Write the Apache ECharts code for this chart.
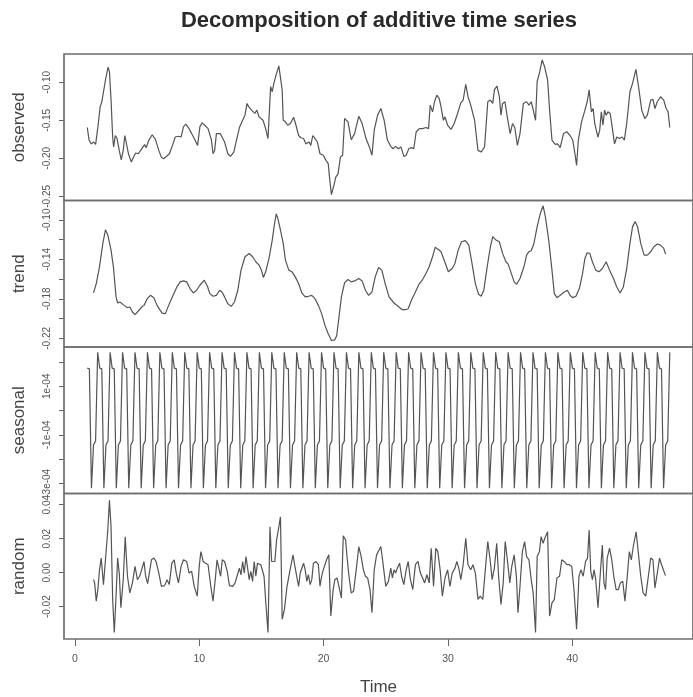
<!DOCTYPE html>
<html>
<head>
<meta charset="utf-8">
<script src="https://cdn.jsdelivr.net/npm/echarts@6/dist/echarts.min.js"></script>
<style>html,body{margin:0;padding:0;background:#fff;}#c{width:693px;height:697px;}</style>
</head>
<body>
<div id="c"></div>
<script>
// ---- data (time, value) ----
const observed = [[1.0,-0.1595],[1.14,-0.176],[1.32,-0.181],[1.51,-0.1786],[1.67,-0.1816],[1.85,-0.159],[2.04,-0.132],[2.17,-0.1256],[2.30,-0.125],[2.46,-0.097],[2.67,-0.080],[2.78,-0.086],[2.91,-0.1234],[3.04,-0.172],[3.12,-0.185],[3.25,-0.170],[3.39,-0.174],[3.57,-0.1896],[3.73,-0.202],[3.89,-0.1896],[4.02,-0.170],[4.15,-0.172],[4.31,-0.194],[4.54,-0.205],[4.71,-0.1985],[4.89,-0.193],[5.10,-0.194],[5.29,-0.1896],[5.48,-0.185],[5.61,-0.182],[5.74,-0.186],[5.95,-0.176],[6.22,-0.169],[6.48,-0.1755],[6.75,-0.1896],[6.95,-0.1985],[7.14,-0.2005],[7.40,-0.197],[7.60,-0.194],[7.85,-0.183],[8.07,-0.172],[8.33,-0.171],[8.54,-0.172],[8.73,-0.1587],[8.92,-0.155],[9.13,-0.1595],[9.39,-0.1675],[9.66,-0.176],[9.87,-0.183],[10.05,-0.1587],[10.24,-0.1534],[10.45,-0.1565],[10.71,-0.161],[10.98,-0.176],[11.11,-0.194],[11.24,-0.1896],[11.38,-0.1675],[11.50,-0.1666],[11.69,-0.1675],[11.83,-0.1666],[12.04,-0.1786],[12.30,-0.194],[12.51,-0.1975],[12.78,-0.1918],[12.96,-0.1786],[13.23,-0.1595],[13.49,-0.150],[13.68,-0.1433],[13.84,-0.1278],[13.97,-0.132],[14.10,-0.1345],[14.21,-0.1367],[14.34,-0.1345],[14.47,-0.141],[14.63,-0.1367],[14.81,-0.1455],[14.95,-0.1433],[15.13,-0.150],[15.34,-0.161],[15.53,-0.174],[15.61,-0.176],[15.74,-0.1057],[15.87,-0.1124],[16.00,-0.1014],[16.22,-0.088],[16.40,-0.0785],[16.53,-0.079],[16.67,-0.110],[16.75,-0.150],[16.93,-0.152],[17.12,-0.1565],[17.33,-0.1543],[17.59,-0.146],[17.78,-0.1565],[17.99,-0.170],[18.17,-0.173],[18.39,-0.174],[18.57,-0.181],[18.70,-0.183],[18.84,-0.1786],[18.97,-0.183],[19.13,-0.170],[19.31,-0.174],[19.50,-0.1786],[19.71,-0.194],[19.97,-0.196],[20.19,-0.2027],[20.37,-0.207],[20.50,-0.229],[20.63,-0.2478],[20.82,-0.236],[20.98,-0.2248],[21.16,-0.2204],[21.35,-0.1984],[21.53,-0.196],[21.69,-0.1477],[21.96,-0.152],[22.22,-0.1755],[22.49,-0.1675],[22.83,-0.1446],[23.10,-0.1543],[23.41,-0.174],[23.68,-0.185],[23.89,-0.196],[24.07,-0.163],[24.34,-0.1433],[24.60,-0.1345],[24.87,-0.150],[25.13,-0.176],[25.40,-0.1843],[25.58,-0.1874],[25.79,-0.1843],[26.00,-0.1874],[26.22,-0.185],[26.45,-0.1975],[26.64,-0.196],[26.85,-0.1874],[27.06,-0.186],[27.25,-0.1874],[27.44,-0.1654],[27.70,-0.161],[27.96,-0.161],[28.23,-0.1595],[28.44,-0.161],[28.57,-0.130],[28.76,-0.1389],[28.92,-0.1256],[29.10,-0.117],[29.29,-0.1213],[29.44,-0.132],[29.63,-0.150],[29.76,-0.1455],[29.97,-0.1565],[30.24,-0.162],[30.50,-0.1543],[30.77,-0.141],[31.03,-0.127],[31.22,-0.1234],[31.43,-0.1027],[31.61,-0.119],[31.83,-0.130],[32.14,-0.150],[32.41,-0.1896],[32.67,-0.1918],[32.94,-0.185],[33.20,-0.1256],[33.41,-0.1234],[33.60,-0.1278],[33.73,-0.110],[33.94,-0.1049],[34.13,-0.119],[34.26,-0.1433],[34.39,-0.1278],[34.58,-0.1256],[34.79,-0.1477],[35.00,-0.1675],[35.19,-0.1543],[35.37,-0.1595],[35.58,-0.183],[35.79,-0.1675],[36.06,-0.1278],[36.32,-0.1256],[36.51,-0.130],[36.69,-0.1256],[36.85,-0.136],[37.04,-0.150],[37.17,-0.099],[37.38,-0.086],[37.57,-0.0705],[37.75,-0.0785],[38.01,-0.097],[38.17,-0.1367],[38.36,-0.176],[38.62,-0.1816],[38.81,-0.181],[39.02,-0.186],[39.29,-0.1675],[39.55,-0.165],[39.81,-0.170],[40.03,-0.176],[40.21,-0.194],[40.34,-0.2094],[40.48,-0.176],[40.74,-0.152],[41.01,-0.1367],[41.19,-0.1256],[41.35,-0.110],[41.53,-0.1389],[41.67,-0.1345],[41.80,-0.1543],[41.93,-0.152],[42.06,-0.172],[42.20,-0.163],[42.33,-0.1389],[42.46,-0.1565],[42.59,-0.1367],[42.72,-0.1433],[42.86,-0.1389],[43.04,-0.141],[43.20,-0.1587],[43.39,-0.181],[43.57,-0.172],[43.78,-0.174],[44.00,-0.172],[44.18,-0.176],[44.37,-0.1543],[44.63,-0.1124],[44.84,-0.1014],[45.11,-0.0829],[45.32,-0.1058],[45.58,-0.1367],[45.82,-0.1477],[46.03,-0.1433],[46.30,-0.1234],[46.48,-0.1225],[46.64,-0.1345],[46.83,-0.1256],[47.09,-0.119],[47.35,-0.1234],[47.54,-0.1345],[47.70,-0.1389],[47.83,-0.1595]];

const trend = [[1.5,-0.174],[1.72,-0.1645],[1.98,-0.1475],[2.25,-0.1238],[2.46,-0.110],[2.65,-0.1153],[2.91,-0.1306],[3.10,-0.1475],[3.31,-0.178],[3.44,-0.1842],[3.62,-0.1832],[3.78,-0.1815],[3.97,-0.1866],[4.23,-0.189],[4.42,-0.1883],[4.63,-0.1933],[4.84,-0.196],[5.10,-0.1923],[5.37,-0.1883],[5.56,-0.1866],[5.82,-0.1798],[6.08,-0.1764],[6.35,-0.1788],[6.61,-0.1866],[7.01,-0.1944],[7.28,-0.195],[7.54,-0.1866],[7.86,-0.1774],[8.20,-0.1679],[8.47,-0.1628],[8.73,-0.1618],[8.99,-0.1628],[9.26,-0.1696],[9.52,-0.174],[9.79,-0.1713],[10.05,-0.1662],[10.40,-0.1611],[10.66,-0.1672],[10.85,-0.1747],[11.11,-0.1774],[11.38,-0.1764],[11.64,-0.1713],[11.83,-0.173],[12.04,-0.178],[12.30,-0.1849],[12.57,-0.1876],[12.83,-0.1832],[13.10,-0.1713],[13.36,-0.1509],[13.68,-0.1373],[14.02,-0.134],[14.29,-0.1373],[14.55,-0.1424],[14.81,-0.1458],[15.00,-0.1509],[15.16,-0.1584],[15.34,-0.1526],[15.61,-0.139],[15.87,-0.1204],[16.06,-0.1034],[16.19,-0.0939],[16.32,-0.0983],[16.53,-0.1102],[16.75,-0.1238],[16.93,-0.1407],[17.20,-0.1509],[17.46,-0.1526],[17.72,-0.1577],[17.99,-0.1645],[18.25,-0.174],[18.52,-0.178],[18.78,-0.1774],[19.05,-0.1764],[19.31,-0.1798],[19.58,-0.1866],[19.84,-0.195],[20.11,-0.2069],[20.37,-0.2154],[20.63,-0.2222],[20.90,-0.2215],[21.05,-0.2175],[21.24,-0.198],[21.43,-0.178],[21.69,-0.1635],[21.96,-0.1604],[22.22,-0.1628],[22.49,-0.1618],[22.83,-0.1594],[23.10,-0.1618],[23.36,-0.1713],[23.62,-0.1764],[23.89,-0.173],[24.15,-0.1577],[24.42,-0.1482],[24.68,-0.1509],[24.95,-0.1645],[25.26,-0.178],[25.66,-0.1842],[26.06,-0.1883],[26.32,-0.191],[26.59,-0.191],[26.80,-0.19],[27.06,-0.1815],[27.38,-0.173],[27.70,-0.1645],[27.96,-0.1604],[28.23,-0.1543],[28.49,-0.1475],[28.76,-0.1373],[28.97,-0.1278],[29.23,-0.1299],[29.44,-0.1322],[29.71,-0.1414],[30.03,-0.1526],[30.34,-0.1492],[30.56,-0.1441],[30.82,-0.1306],[31.09,-0.1221],[31.40,-0.121],[31.67,-0.1255],[31.93,-0.1441],[32.20,-0.1645],[32.46,-0.1754],[32.67,-0.1774],[32.88,-0.1713],[33.15,-0.1475],[33.41,-0.1272],[33.60,-0.117],[33.86,-0.1204],[34.13,-0.1221],[34.39,-0.1339],[34.66,-0.1424],[34.84,-0.1448],[35.05,-0.1526],[35.32,-0.1628],[35.53,-0.1652],[35.79,-0.1594],[36.11,-0.1475],[36.32,-0.1356],[36.51,-0.1322],[36.69,-0.1312],[36.90,-0.1244],[37.17,-0.1068],[37.43,-0.0932],[37.65,-0.0857],[37.83,-0.0966],[38.10,-0.1204],[38.36,-0.1509],[38.55,-0.1747],[38.76,-0.1788],[39.02,-0.1764],[39.34,-0.173],[39.60,-0.1713],[39.81,-0.1764],[40.03,-0.1788],[40.29,-0.1774],[40.56,-0.1696],[40.82,-0.1543],[41.01,-0.139],[41.19,-0.1333],[41.40,-0.1339],[41.61,-0.1424],[41.88,-0.1509],[42.14,-0.1526],[42.41,-0.1492],[42.72,-0.1424],[42.99,-0.1509],[43.31,-0.1594],[43.57,-0.1679],[43.84,-0.174],[44.10,-0.1679],[44.37,-0.1492],[44.63,-0.1238],[44.84,-0.1068],[45.05,-0.1017],[45.24,-0.1068],[45.50,-0.1238],[45.77,-0.1356],[46.03,-0.1356],[46.30,-0.1322],[46.56,-0.1272],[46.83,-0.1244],[47.09,-0.1255],[47.35,-0.1289],[47.50,-0.1346]];

// seasonal figure (one period of 6 observations), repeated over the series
const seasonalFigure = [2.4e-4, 1.75e-4, 1.72e-4, -3.2e-4, -1.42e-4, -1.25e-4];
const seasonalStart = 1;      // time of first observation
const seasonalFreq = 6;       // observations per time unit
const seasonalPhase = 1;      // position in the figure of the first observation
const seasonalCount = 282;    // number of observations

const random = [[1.5,-0.0041],[1.59,-0.006],[1.72,-0.0167],[1.85,-0.0099],[1.98,0.0017],[2.12,0.0086],[2.30,-0.007],[2.46,0.0076],[2.65,0.0251],[2.78,0.0426],[2.91,0.027],[3.04,-0.0157],[3.17,-0.0352],[3.31,-0.0138],[3.44,0.0086],[3.57,-0.0002],[3.70,-0.0206],[3.89,-0.0041],[4.05,0.0212],[4.23,-0.0021],[4.42,-0.0119],[4.63,-0.006],[4.84,0.0037],[5.03,-0.0041],[5.21,-0.0021],[5.37,0.0017],[5.56,0.0066],[5.69,-0.0021],[5.85,-0.0064],[6.01,0.0008],[6.16,0.0076],[6.35,0.0086],[6.53,0.0066],[6.75,-0.0002],[6.96,-0.008],[7.22,-0.0076],[7.41,-0.0041],[7.59,-0.007],[7.80,0.0056],[7.99,0.0076],[8.15,-0.0002],[8.33,-0.006],[8.54,0.0037],[8.73,0.0076],[8.99,0.0066],[9.18,-0.0002],[9.39,0.0008],[9.60,-0.008],[9.84,-0.0138],[10.00,0.0037],[10.13,0.0124],[10.32,0.0066],[10.50,0.0056],[10.71,0.0047],[10.93,-0.008],[11.11,-0.0167],[11.30,-0.0031],[11.43,0.0076],[11.56,0.0066],[11.72,-0.0021],[11.85,0.0076],[12.04,0.0066],[12.25,0.0008],[12.43,-0.0076],[12.70,-0.008],[12.88,-0.006],[13.04,-0.0021],[13.23,0.0027],[13.36,-0.0012],[13.49,0.0066],[13.62,-0.0002],[13.76,0.0095],[13.89,0.0086],[14.02,-0.0041],[14.15,0.0008],[14.29,-0.0051],[14.42,0.0066],[14.55,-0.0021],[14.68,0.0056],[14.81,0.0047],[14.95,0.0047],[15.08,0.0037],[15.21,-0.0021],[15.37,-0.0196],[15.53,-0.0352],[15.69,0.027],[15.82,0.0066],[15.95,0.0076],[16.08,0.0066],[16.22,0.0192],[16.40,0.027],[16.53,0.0328],[16.67,-0.0274],[16.85,-0.0216],[17.06,-0.008],[17.28,0.0008],[17.41,0.0017],[17.54,0.0105],[17.67,0.0047],[17.86,-0.0031],[17.99,-0.008],[18.12,-0.0002],[18.25,0.0008],[18.39,0.0056],[18.52,0.0017],[18.65,-0.0051],[18.78,-0.0012],[18.92,-0.007],[19.05,-0.0041],[19.18,0.0056],[19.39,0.0066],[19.58,0.0047],[19.71,-0.008],[19.84,-0.0021],[19.97,0.0017],[20.24,0.0076],[20.42,0.0105],[20.58,-0.0255],[20.77,-0.0099],[20.90,-0.0041],[21.08,-0.0031],[21.24,-0.0021],[21.43,-0.0148],[21.58,0.0217],[21.77,0.0192],[21.88,0.0095],[22.04,-0.0021],[22.22,-0.0119],[22.41,-0.0109],[22.62,0.0017],[22.83,0.0154],[23.02,0.0095],[23.20,0.0017],[23.36,-0.0021],[23.54,-0.0031],[23.73,-0.0099],[23.89,-0.0235],[24.07,0.0017],[24.26,0.0105],[24.42,0.0115],[24.60,0.0154],[24.74,0.0076],[24.87,0.0066],[25.00,-0.008],[25.21,-0.0051],[25.40,0.0027],[25.53,-0.0031],[25.66,0.0017],[25.79,-0.0002],[25.93,0.0027],[26.11,0.0056],[26.27,-0.0021],[26.45,-0.007],[26.64,0.0017],[26.80,0.0066],[26.98,-0.0041],[27.17,-0.0099],[27.38,0.0047],[27.59,0.0066],[27.78,-0.0002],[27.96,-0.0031],[28.12,-0.006],[28.31,-0.0012],[28.49,-0.006],[28.65,0.0144],[28.84,-0.008],[29.02,0.0144],[29.18,0.0124],[29.37,0.0017],[29.55,-0.0138],[29.76,-0.0031],[29.97,0.0017],[30.16,-0.008],[30.34,-0.0002],[30.56,0.0027],[30.71,0.0066],[30.87,0.0027],[31.03,-0.0041],[31.22,0.0047],[31.43,0.0202],[31.61,0.0047],[31.83,0.0017],[32.01,0.0047],[32.20,-0.0002],[32.41,-0.0157],[32.59,-0.0138],[32.80,-0.0157],[32.99,0.0008],[33.20,0.0183],[33.39,0.0076],[33.55,-0.0041],[33.73,0.0027],[33.92,0.0173],[34.08,-0.0031],[34.26,-0.0187],[34.44,-0.006],[34.60,0.0183],[34.79,0.0066],[34.97,-0.006],[35.13,0.0037],[35.32,0.0105],[35.50,-0.0021],[35.63,-0.0235],[35.79,-0.008],[35.98,0.0124],[36.16,0.0183],[36.32,0.0095],[36.51,0.0076],[36.69,-0.0041],[36.85,-0.0119],[37.04,-0.0352],[37.17,0.0095],[37.35,0.0124],[37.49,0.0212],[37.65,0.0173],[37.83,0.0212],[38.01,0.0241],[38.17,-0.0255],[38.36,-0.0177],[38.55,-0.0157],[38.76,-0.0031],[38.97,-0.0021],[39.15,0.0076],[39.34,0.0066],[39.55,0.0047],[39.76,0.0047],[39.95,0.0037],[40.13,-0.0099],[40.34,-0.0332],[40.53,-0.0021],[40.69,0.0017],[40.87,-0.0021],[41.06,0.0066],[41.22,0.0086],[41.35,0.0251],[41.48,0.0008],[41.61,-0.0041],[41.75,0.0017],[41.88,-0.0041],[42.06,-0.0206],[42.25,-0.0002],[42.41,0.0163],[42.54,-0.006],[42.67,-0.0099],[42.80,0.0086],[42.99,0.0144],[43.17,0.0076],[43.33,-0.0021],[43.52,-0.0099],[43.70,-0.0099],[43.86,-0.006],[44.05,-0.0051],[44.23,-0.0167],[44.39,-0.0041],[44.58,0.0124],[44.74,0.0076],[44.92,0.0163],[45.13,0.0241],[45.32,0.0105],[45.50,-0.0021],[45.69,-0.0119],[45.90,-0.0138],[46.11,-0.0021],[46.30,0.0086],[46.48,0.0076],[46.64,-0.0089],[46.83,-0.0002],[47.01,0.0086],[47.17,0.0047],[47.30,0.0056],[47.49,-0.0017]];

// ---- axis ticks / labels ----
const xTicks = [0, 10, 20, 30, 40];
const observedTicks = [-0.25, -0.20, -0.15, -0.10];
const trendTicks = [-0.22, -0.20, -0.18, -0.16, -0.14, -0.12, -0.10];
const trendLabels = [-0.22, -0.18, -0.14, -0.10];
const seasonalTicks = [-3e-4, -2e-4, -1e-4, 0, 1e-4, 2e-4];
const seasonalLabels = [-3e-4, -1e-4, 1e-4];
const randomTicks = [-0.02, 0.00, 0.02, 0.04];
const panelNames = ['observed', 'trend', 'seasonal', 'random'];
const titleText = 'Decomposition of additive time series';
const xName = 'Time';

// ---- build ----
const seasonal = [];
for (let i = 0; i < seasonalCount; i++) {
  seasonal.push([seasonalStart + i / seasonalFreq, seasonalFigure[(i + seasonalPhase) % seasonalFigure.length]]);
}

const FONT = 'Liberation Sans, Arial, Helvetica, sans-serif';
const LINE = '#545454';
const BOX = '#6e6e6e';
const X_MIN = -0.873, X_MAX = 49.70;
const tops = [54, 200.5, 347, 493.5];
const PH = 146.5;

const fmt2 = v => (Math.abs(v) < 1e-12 ? 0 : v).toFixed(2);
const fmtE = v => { const e = Math.round(v * 1e4); return (e < 0 ? '-' : '') + Math.abs(e) + 'e-04'; };

const ranges = [[-0.2555, -0.0628], [-0.2288, -0.0803], [-3.42e-4, 2.62e-4], [-0.039, 0.0466]];
const tickSets = [observedTicks, trendTicks, seasonalTicks, randomTicks];
const labelSets = [observedTicks, trendLabels, seasonalLabels, randomTicks];
const fmts = [fmt2, fmt2, fmtE, fmt2];
const datas = [observed, trend, seasonal, random];

const grid = tops.map(t => ({
  left: 64, top: t, width: 637, height: PH, show: true,
  borderColor: BOX, borderWidth: 1.7, backgroundColor: 'transparent', containLabel: false
}));

const xAxis = tops.map((t, i) => ({
  type: 'value', gridIndex: i, min: X_MIN, max: X_MAX,
  show: i === 3, position: 'bottom',
  axisLine: { show: false, onZero: false },
  splitLine: { show: false },
  axisTick: { show: i === 3, customValues: xTicks, length: 7, lineStyle: { color: '#666', width: 1 } },
  axisLabel: { show: i === 3, customValues: xTicks, margin: 15, fontSize: 10.5, color: '#555', fontFamily: FONT },
  name: i === 3 ? xName : '', nameLocation: 'middle', nameGap: 40,
  nameTextStyle: { fontSize: 17, color: '#444', fontFamily: FONT }
}));

const yAxis = tops.map((t, i) => ({
  type: 'value', gridIndex: i, min: ranges[i][0], max: ranges[i][1], position: 'left',
  axisLine: { show: false, onZero: false },
  splitLine: { show: false },
  axisTick: { show: true, customValues: tickSets[i], length: 5, lineStyle: { color: '#666', width: 1 } },
  axisLabel: { customValues: labelSets[i], rotate: 90, margin: 12, fontSize: 10, color: '#555', fontFamily: FONT, formatter: fmts[i] },
  name: panelNames[i], nameLocation: 'middle', nameRotate: 90, nameGap: 36,
  nameTextStyle: { fontSize: 17, color: '#444', fontFamily: FONT }
}));

const series = datas.map((d, i) => ({
  type: 'line', xAxisIndex: i, yAxisIndex: i, data: d,
  showSymbol: false, symbol: 'none', smooth: false,
  lineStyle: { color: LINE, width: 1.2 }, silent: true
}));

const chart = echarts.init(document.getElementById('c'), null, { renderer: 'canvas' });
chart.setOption({
  animation: false,
  backgroundColor: '#fff',
  title: {
    text: titleText, left: 374, top: 5, textAlign: 'center',
    textStyle: { fontSize: 22, fontWeight: 'bold', color: '#2a2a2a', fontFamily: FONT }
  },
  grid, xAxis, yAxis, series
});
</script>
</body>
</html>
